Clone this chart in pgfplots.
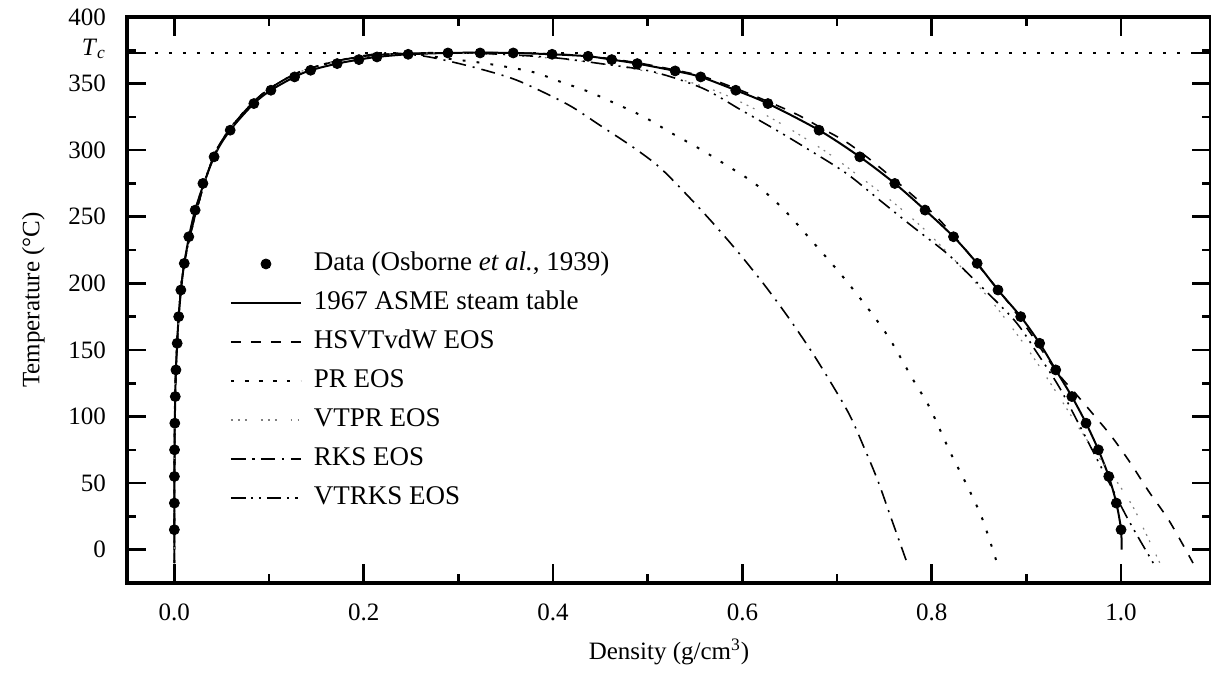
\documentclass[border=0pt]{standalone}
\usepackage{pgfplots}
\pgfplotsset{compat=1.18}
\usepackage{fontspec}
\setmainfont{Liberation Serif}
\begin{document}
\begin{tikzpicture}
\begin{axis}[
  scale only axis,
  width=542pt, height=283pt,
  xmin=-0.05, xmax=1.095, ymin=-25, ymax=400,
  xtick={0,0.2,...,1.0}, minor x tick num=1,
  ytick={0,50,...,400}, minor y tick num=1,
  extra y ticks={373}, extra y tick labels={\textit{T}\textsubscript{\textit{c}}},
  extra y tick style={yticklabel style={yshift=2pt}},
  x tick label style={/pgf/number format/fixed,/pgf/number format/fixed zerofill,/pgf/number format/precision=1, yshift=-7pt},
  /pgf/number format/assume math mode=true,
  tick label style={font=\fontsize{12.5}{15}\selectfont},
  y tick label style={xshift=-7pt},
  major tick length=9.5pt, minor tick length=4.5pt,
  tick style={line width=1.3pt, black},
  axis line style={line width=1.6pt},
  xlabel={Density (g/cm\textsuperscript{3})},
  ylabel={Temperature (\textdegree C)},
  label style={font=\fontsize{12.5}{15}\selectfont},
  xlabel style={yshift=-2pt},
  ylabel style={yshift=5pt},
  clip=true,
  legend cell align=left,
  legend style={draw=none, fill=none, at={(axis cs:0.052,228)}, anchor=north west,
    font=\fontsize{13.5}{16}\selectfont,
    nodes={inner sep=0pt, text height=10pt, text depth=3.5pt},
    row sep=6pt, column sep=6pt},
  legend image code/.code={\draw[mark repeat=2,mark phase=2,#1] plot coordinates {(0pt,0pt) (17.5pt,0pt) (35pt,0pt)};},
]
% Tc line
\addplot[forget plot, line width=1pt, dash pattern=on 1.4pt off 5.6pt] coordinates {(-0.05,373) (1.095,373)};
% Data
\addplot[only marks, mark=*, mark size=2.5pt, fill=black] coordinates {
(0.00001,15) (0.00004,35) (0.0001,55) (0.00024,75) (0.0005,95) (0.001,115) (0.0017,135)
(0.003,155) (0.0046,175) (0.0069,195) (0.0105,215) (0.0153,235) (0.022,255) (0.0302,275)
(0.042,295) (0.059,315) (0.084,335) (0.102,345) (0.127,355) (0.144,360) (0.172,365)
(0.195,368) (0.214,370) (0.247,372)
(0.289,373) (0.323,373) (0.358,373) (0.399,372) (0.437,370.5) (0.462,368) (0.489,365)
(0.529,359.5) (0.556,355) (0.593,345) (0.627,335) (0.681,315) (0.724,295) (0.761,275)
(0.793,255) (0.823,235) (0.848,215) (0.870,195) (0.894,175) (0.914,155) (0.931,135)
(0.948,115) (0.963,95) (0.976,75) (0.987,55) (0.995,35) (1.000,15)};
\addlegendentry{Data (Osborne \textit{et al.}, 1939)}
% ASME
\addplot[black, line width=1pt, smooth] coordinates {
(0.000005,0) (0.00001,15) (0.0001,55) (0.0005,95) (0.0017,135) (0.0046,175) (0.0105,215)
(0.022,255) (0.042,295) (0.059,315) (0.084,335) (0.102,345) (0.127,355) (0.144,360) (0.172,365)
(0.195,368) (0.214,370) (0.247,372) (0.289,373) (0.323,373.2) (0.358,373) (0.399,372)
(0.437,370.5) (0.462,368) (0.489,365) (0.529,359.5) (0.556,355) (0.593,345) (0.627,335)
(0.681,315) (0.724,295) (0.761,275) (0.793,255) (0.823,235) (0.848,215) (0.870,195)
(0.894,175) (0.914,155) (0.931,135) (0.948,115) (0.963,95) (0.976,75) (0.987,55)
(0.995,35) (1.000,15) (1.0005,0)};
\addlegendentry{1967 ASME steam table}
% HSVTvdW
\addplot[black, line width=0.8pt, dash pattern=on 5pt off 5pt, smooth] coordinates {
(0.000003,-10) (0.0001,55) (0.0017,135) (0.0105,215) (0.042,296) (0.084,336.5) (0.127,357)
(0.172,367) (0.214,371.5) (0.26,373) (0.30,373.2) (0.36,373) (0.40,372.2) (0.44,370.5)
(0.49,365.5) (0.53,360) (0.56,355) (0.598,345) (0.632,335) (0.660,326) (0.685,316)
(0.710,306) (0.734,293.5) (0.757,280) (0.780,266) (0.805,250) (0.829,231) (0.852,211)
(0.875,191) (0.899,168) (0.920,146) (0.936,130) (0.951,118) (0.969,103) (0.990,85)
(1.010,65) (1.029,44) (1.051,21.5) (1.076,-10)};
\addlegendentry{HSVTvdW EOS}
% PR
\addplot[black, line width=1pt, dash pattern=on 1.4pt off 5.6pt, smooth] coordinates {
(0.000003,-10) (0.0001,55) (0.0017,135) (0.0105,215) (0.042,296) (0.084,336.5) (0.127,357)
(0.172,367) (0.214,371.5) (0.245,373) (0.286,369) (0.33,365) (0.378,358.8) (0.408,351.3)
(0.438,343.8) (0.466,335) (0.496,325) (0.526,312.5) (0.555,301) (0.583,288.8) (0.613,275)
(0.643,256) (0.672,233) (0.705,206) (0.735,179) (0.756,157.8) (0.780,128) (0.798,106.5)
(0.819,74) (0.836,50) (0.853,24) (0.869,-10)};
\addlegendentry{PR EOS}
% VTPR
\addplot[gray, line width=0.6pt, dash pattern=on 0.9pt off 2.6pt on 0.9pt off 2.6pt on 0.9pt off 7pt, smooth] coordinates {
(0.000003,-10) (0.0001,55) (0.0017,135) (0.0105,215) (0.042,296) (0.084,336.5) (0.127,357)
(0.172,367) (0.214,371.5) (0.26,373) (0.33,372) (0.40,369) (0.46,364) (0.52,356)
(0.57,345) (0.61,332) (0.65,316) (0.69,298) (0.726,279) (0.759,261) (0.793,240)
(0.83,213) (0.865,185) (0.90,152) (0.93,120) (0.955,92) (0.976,70) (0.995,51.7)
(1.013,31.7) (1.025,14) (1.041,-10)};
\addlegendentry{VTPR EOS}
% RKS
\addplot[black, line width=0.8pt, dash pattern=on 7pt off 3.5pt on 1pt off 3.5pt, smooth] coordinates {
(0.000003,-10) (0.0001,55) (0.0017,135) (0.0105,215) (0.042,296) (0.084,336.5) (0.127,357)
(0.172,367) (0.205,371.5) (0.23,373) (0.269,370) (0.315,362.5) (0.357,353.8) (0.389,343.8)
(0.420,332.5) (0.452,317.5) (0.484,302.5) (0.512,287.5) (0.540,267.5) (0.568,246)
(0.596,223) (0.622,200) (0.647,176) (0.672,150) (0.693,126) (0.713,101.5) (0.729,76)
(0.743,52) (0.755,28) (0.766,6) (0.774,-10)};
\addlegendentry{RKS EOS}
% VTRKS
\addplot[black, line width=0.8pt, dash pattern=on 7pt off 3pt on 1pt off 3pt on 1pt off 3pt, smooth] coordinates {
(0.000003,-10) (0.0001,55) (0.0017,135) (0.0105,215) (0.042,296) (0.084,336.5) (0.127,357)
(0.172,367) (0.214,371.5) (0.27,373) (0.33,372.5) (0.40,369.5) (0.45,365) (0.505,359)
(0.558,346.5) (0.599,330) (0.636,315) (0.671,300) (0.710,282.5) (0.745,262.5) (0.780,242.5)
(0.816,222.5) (0.846,202) (0.888,171.7) (0.912,147) (0.935,121.7) (0.960,88) (0.984,55)
(1.008,22) (1.034,-10)};
\addlegendentry{VTRKS EOS}
\end{axis}
\path (current axis.south west) ++(-63.5pt,-48pt) coordinate (bbsw);
\path (current axis.north east) ++(0pt,8.5pt) coordinate (bbne);
\pgfresetboundingbox
\path[use as bounding box] (bbsw) rectangle (bbne);
\end{tikzpicture}
\end{document}
